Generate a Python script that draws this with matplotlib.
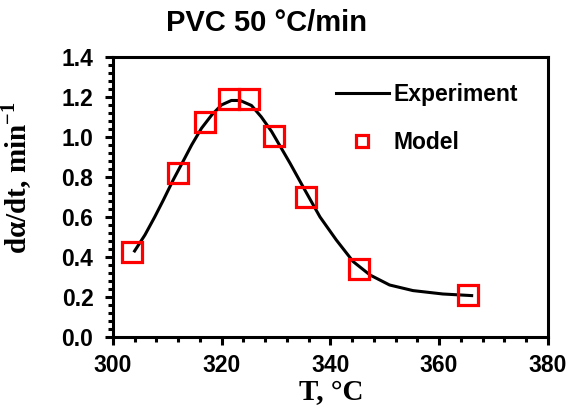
import matplotlib
matplotlib.use("Agg")
import matplotlib.pyplot as plt
from matplotlib.ticker import MultipleLocator, FormatStrFormatter

# Experimental conversion rate curve, PVC at 50 °C/min
T_exp = [304.0, 305.9, 307.7, 309.3, 311.1, 312.9, 314.5, 316.3, 318.2, 320.0,
         321.8, 323.4, 325.5, 327.3, 329.2, 330.1, 332.6, 335.0, 338.1, 341.1,
         344.2, 347.3, 350.9, 355.2, 360.7, 366.0]
rate_exp = [0.430, 0.510, 0.600, 0.685, 0.785, 0.877, 0.960, 1.043, 1.110, 1.160,
            1.182, 1.182, 1.157, 1.100, 1.027, 0.985, 0.868, 0.750, 0.600, 0.485,
            0.377, 0.310, 0.260, 0.232, 0.215, 0.207]

# Model predictions
T_mod = [303.6, 311.9, 316.9, 321.3, 325.0, 329.7, 335.5, 345.2, 365.4]
rate_mod = [0.425, 0.82, 1.075, 1.19, 1.19, 1.005, 0.70, 0.34, 0.21]

sans = "Liberation Sans"
serif = "Liberation Serif"

fig = plt.figure(figsize=(5.7, 4.09), dpi=100)
ax = fig.add_axes([0.198, 0.176, 0.763, 0.685])

ax.plot(T_exp, rate_exp, color="black", lw=2.2, label="Experiment", zorder=2)
ax.plot(T_mod, rate_mod, ls="none", marker="s", ms=14, mfc="none", mec="#ff0000",
        mew=2.3, label="Model", zorder=3)

ax.set_xlim(300, 380)
ax.set_ylim(0, 1.4)
ax.xaxis.set_major_locator(MultipleLocator(20))
ax.xaxis.set_minor_locator(MultipleLocator(4))
ax.yaxis.set_major_locator(MultipleLocator(0.2))
ax.yaxis.set_minor_locator(MultipleLocator(0.04))
ax.yaxis.set_major_formatter(FormatStrFormatter("%.1f"))

for s in ax.spines.values():
    s.set_linewidth(2.2)
ax.tick_params(which="major", direction="out", length=6, width=2.2)
ax.tick_params(which="minor", direction="out", length=3.5, width=2.2)
ax.tick_params(axis="x", which="major", pad=6)
ax.tick_params(axis="y", which="major", pad=8)
for lab in ax.get_xticklabels() + ax.get_yticklabels():
    lab.set_fontfamily(sans)
    lab.set_fontweight("bold")
    lab.set_fontsize(16.5)

ax.set_xlabel("T, °C", fontfamily=serif, fontweight="bold", fontsize=21)
ax.xaxis.set_label_coords(0.502, -0.15)
ax.set_ylabel("dα/dt, min$^{\\mathregular{-1}}$", fontfamily=serif, fontweight="bold",
              fontsize=21)
ax.yaxis.set_label_coords(-0.182, 0.57)

fig.text(267 / 570, 1 - 23 / 409, "PVC 50 °C/min", ha="center", va="center",
         fontfamily=sans, fontweight="bold", fontsize=21)

ax.legend(loc="upper left", bbox_to_anchor=(0.513, 0.905), frameon=False,
          borderpad=0, borderaxespad=0,
          prop={"family": sans, "weight": "bold", "size": 16.5},
          handlelength=2.3, handletextpad=0.2, labelspacing=1.06, markerscale=0.6)

fig.savefig("out.png", dpi=100)
